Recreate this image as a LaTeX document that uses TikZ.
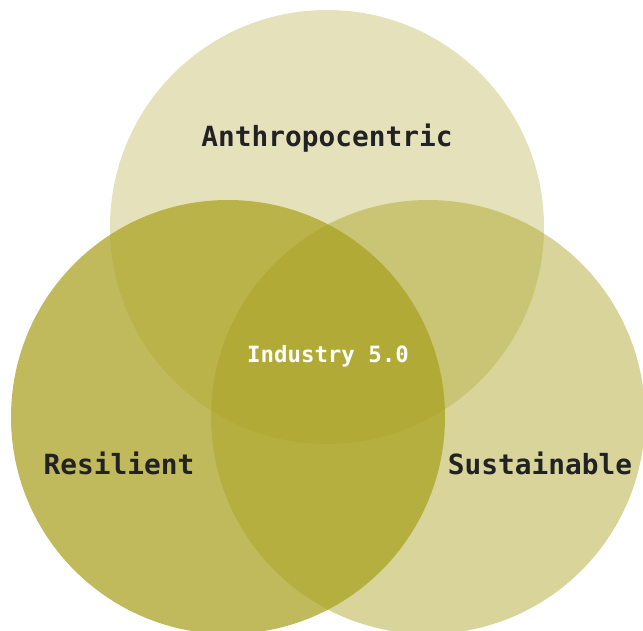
\documentclass[tikz,border=0pt]{standalone}
\usepackage{fontspec}
\setmonofont{DejaVu Sans Mono}
\definecolor{olive}{HTML}{A8A01E}
\definecolor{ink}{HTML}{222222}
\usetikzlibrary{positioning}

\begin{document}
\begin{tikzpicture}[x=1pt,y=-1pt,
  petal/.style={fill=olive,draw=none},
  label/.style={font=\ttfamily\bfseries\fontsize{27.8}{30}\selectfont,text=ink,inner sep=0pt},
  core/.style={font=\ttfamily\bfseries\fontsize{22.4}{24}\selectfont,text=white,inner sep=0pt}]
  \useasboundingbox (0,0) rectangle (643,630);
  % Three overlapping circles
  \fill[petal,opacity=0.3] (327,227) circle[radius=217pt];
  \fill[petal,opacity=0.72] (228,417) circle[radius=217pt];
  \fill[petal,opacity=0.45] (428,417) circle[radius=217pt];
  % Labels
  \node[label] (anthro) at (327,138) {Anthropocentric};
  \node[label] (resil) at (119,463) {Resilient};
  \node[label] (sustain) at (540,463) {Sustainable};
  \node[core] (industry) at (328,356) {Industry 5.0};
\end{tikzpicture}
\end{document}
